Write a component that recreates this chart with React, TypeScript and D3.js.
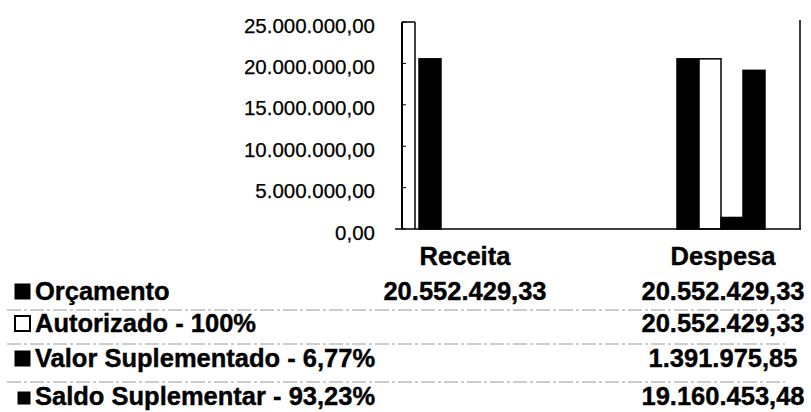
import React from "react";
import * as d3 from "d3";

const categories = ["Receita", "Despesa"];
const seriesNames = [
  "Orçamento",
  "Autorizado - 100%",
  "Valor Suplementado - 6,77%",
  "Saldo Suplementar - 93,23%",
];
const seriesFill = ["#000", "#fff", "#000", "#000"];
const receitaValues: (number | null)[] = [20552429.33, null, null, null];
const despesaValues: (number | null)[] = [20552429.33, 20552429.33, 1391975.85, 19160453.48];
const yTicks = [0, 5000000, 10000000, 15000000, 20000000, 25000000];

const valuesByCategory = [receitaValues, despesaValues];

const W = 811;
const H = 412;

const locale = d3.formatLocale({
  decimal: ",",
  thousands: ".",
  grouping: [3],
  currency: ["R$", ""],
});
const fmt = locale.format(",.2f");

export default function App() {
  const y = d3.scaleLinear().domain([0, 25000000]).range([229, 22]);
  const x0 = d3
    .scaleBand<string>()
    .domain(categories)
    .range([419, 765])
    .paddingInner(0.659)
    .paddingOuter(0);
  const x1 = d3
    .scaleBand<string>()
    .domain(seriesNames)
    .range([0, x0.bandwidth()])
    .padding(0);

  const colCenter = (c: string) => (x0(c) as number) + x0.bandwidth() / 2 + 2;

  const tableFont = "'Liberation Sans', Arial, sans-serif";
  const headerBaseline = 265;
  const rowBaselines = [300, 332, 367, 405];
  const sepLines = [310, 344, 382];
  const fs = 25.5;

  return (
    <svg
      width={W}
      height={H}
      style={{ position: "fixed", left: 0, top: 0, background: "#fff" }}
    >
      <rect x={0} y={0} width={W} height={H} fill="#fff" />
      {/* y tick labels */}
      {yTicks.map((t) => (
        <text
          key={t}
          x={375}
          y={y(t) + 3}
          textAnchor="end"
          dominantBaseline="central"
          fontFamily="'Liberation Sans', Arial, sans-serif"
          fontSize={20.5}
          fill="#000"
          stroke="#000"
          strokeWidth={0.25}
        >
          {fmt(t)}
        </text>
      ))}
      {/* bars */}
      {categories.map((c, ci) =>
        valuesByCategory[ci].map((v, si) =>
          v == null ? null : (
            <rect
              key={c + si}
              x={(x0(c) as number) + (x1(seriesNames[si]) as number)}
              y={y(v)}
              width={x1.bandwidth()}
              height={y(0) - y(v)}
              fill={seriesFill[si]}
              stroke="#000"
              strokeWidth={1.5}
            />
          )
        )
      )}
      {/* axis frame */}
      <line x1={402} x2={402} y1={y(25000000)} y2={y(0)} stroke="#000" strokeWidth={2} />
      <line x1={415} x2={415} y1={y(25000000)} y2={y(0)} stroke="#000" strokeWidth={1.5} />
      <line x1={402} x2={415} y1={y(25000000)} y2={y(25000000)} stroke="#000" strokeWidth={1.5} />
      {yTicks.map((t) => (
        <line key={"tk" + t} x1={402} x2={406} y1={y(t)} y2={y(t)} stroke="#000" strokeWidth={1} />
      ))}
      <line x1={800} x2={800} y1={20} y2={y(0)} stroke="#000" strokeWidth={1.5} />
      <line x1={395} x2={801} y1={y(0)} y2={y(0)} stroke="#000" strokeWidth={1.5} />

      {/* table header */}
      {categories.map((c) => (
        <text
          key={"h" + c}
          x={colCenter(c)}
          y={headerBaseline}
          textAnchor="middle"
          fontFamily={tableFont}
          fontWeight="bold"
          fontSize={fs}
          fill="#000"
          stroke="#000"
          strokeWidth={0.4}
        >
          {c}
        </text>
      ))}
      {/* separator lines */}
      {sepLines.map((ly) => (
        <line
          key={"s" + ly}
          x1={7}
          x2={785}
          y1={ly}
          y2={ly}
          stroke="#999"
          strokeWidth={1}
          strokeDasharray="14 3 3 3"
        />
      ))}
      {/* rows */}
      {seriesNames.map((s, si) => {
        const by = rowBaselines[si];
        const small = si === 3;
        const size = small ? 12 : 15;
        const mx = small ? 18 : 15;
        return (
          <g key={"r" + s}>
            <rect
              x={mx}
              y={by - 1 - size}
              width={size}
              height={size}
              fill={seriesFill[si]}
              stroke="#000"
              strokeWidth={si === 1 ? 2 : 1}
            />
            <text
              x={35}
              y={by}
              fontFamily={tableFont}
              fontWeight="bold"
              fontSize={fs}
              fill="#000"
              stroke="#000"
              strokeWidth={0.4}
            >
              {s}
            </text>
            {categories.map((c, ci) => {
              const v = valuesByCategory[ci][si];
              return v == null ? null : (
                <text
                  key={"v" + c}
                  x={colCenter(c)}
                  y={by}
                  textAnchor="middle"
                  fontFamily={tableFont}
                  fontWeight="bold"
                  fontSize={fs}
                  fill="#000"
                  stroke="#000"
                  strokeWidth={0.4}
                >
                  {fmt(v)}
                </text>
              );
            })}
          </g>
        );
      })}
    </svg>
  );
}
